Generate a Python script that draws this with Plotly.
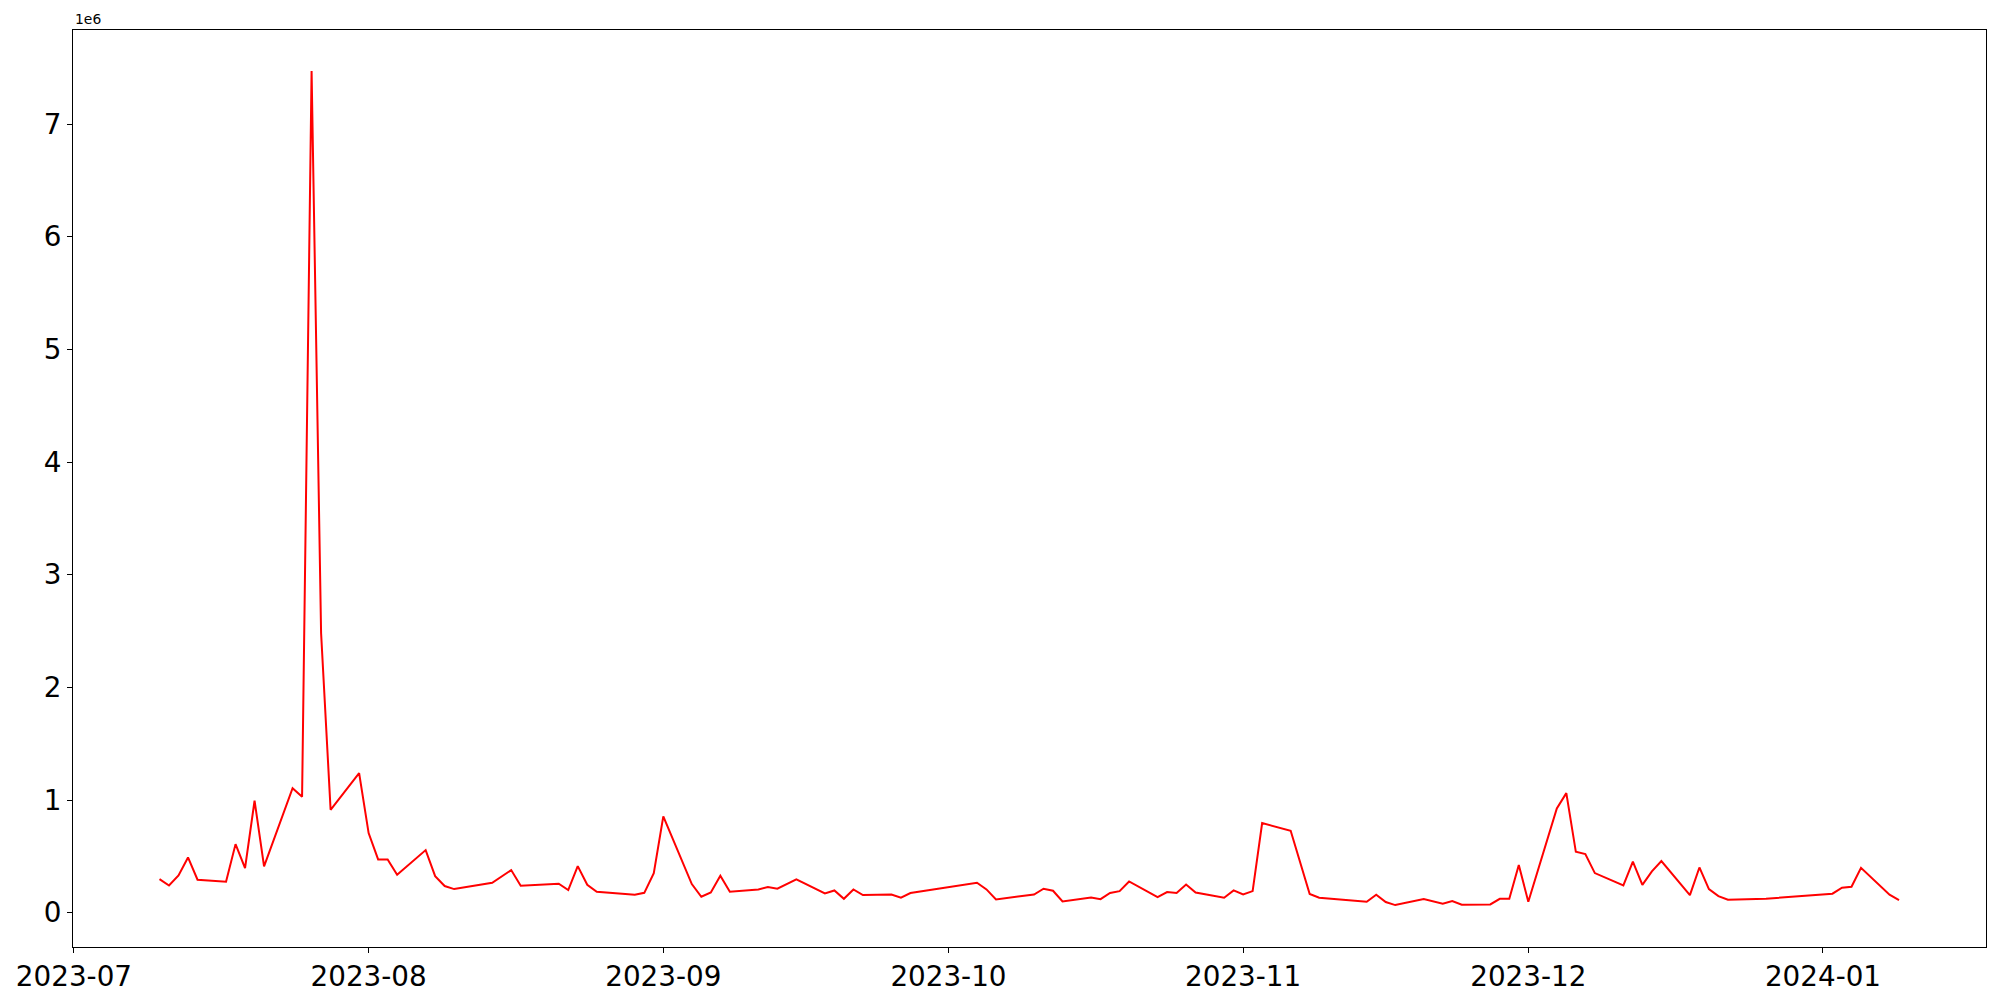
import plotly.graph_objects as go

dates = [
    "2023-07-10", "2023-07-11", "2023-07-12", "2023-07-13", "2023-07-14",
    "2023-07-17", "2023-07-18", "2023-07-19", "2023-07-20", "2023-07-21",
    "2023-07-24", "2023-07-25", "2023-07-26", "2023-07-27", "2023-07-28",
    "2023-07-31", "2023-08-01", "2023-08-02", "2023-08-03", "2023-08-04",
    "2023-08-07", "2023-08-08", "2023-08-09", "2023-08-10", "2023-08-14",
    "2023-08-16", "2023-08-17", "2023-08-21", "2023-08-22", "2023-08-23",
    "2023-08-24", "2023-08-25", "2023-08-29", "2023-08-30", "2023-08-31",
    "2023-09-01", "2023-09-04", "2023-09-05", "2023-09-06", "2023-09-07",
    "2023-09-08", "2023-09-11", "2023-09-12", "2023-09-13", "2023-09-15",
    "2023-09-18", "2023-09-19", "2023-09-20", "2023-09-21", "2023-09-22",
    "2023-09-25", "2023-09-26", "2023-09-27", "2023-10-04", "2023-10-05",
    "2023-10-06", "2023-10-10", "2023-10-11", "2023-10-12", "2023-10-13",
    "2023-10-16", "2023-10-17", "2023-10-18", "2023-10-19", "2023-10-20",
    "2023-10-23", "2023-10-24", "2023-10-25", "2023-10-26", "2023-10-27",
    "2023-10-30", "2023-10-31", "2023-11-01", "2023-11-02", "2023-11-03",
    "2023-11-06", "2023-11-08", "2023-11-09", "2023-11-14", "2023-11-15",
    "2023-11-16", "2023-11-17", "2023-11-20", "2023-11-22", "2023-11-23",
    "2023-11-24", "2023-11-27", "2023-11-28", "2023-11-29", "2023-11-30",
    "2023-12-01", "2023-12-04", "2023-12-05", "2023-12-06", "2023-12-07",
    "2023-12-08", "2023-12-11", "2023-12-12", "2023-12-13", "2023-12-14",
    "2023-12-15", "2023-12-18", "2023-12-19", "2023-12-20", "2023-12-21",
    "2023-12-22", "2023-12-26", "2024-01-02", "2024-01-03", "2024-01-04",
    "2024-01-05", "2024-01-08", "2024-01-09",
]

values = [
    299000, 242000, 331000, 491000, 293000,
    275000, 609000, 397000, 994000, 411000,
    1106000, 1029000, 7470000, 2480000, 914000,
    1240000, 707000, 473000, 473000, 337000,
    556000, 325000, 237000, 210000, 266000,
    379000, 240000, 257000, 201000, 414000,
    248000, 186000, 160000, 177000, 352000,
    855000, 255000, 142000, 180000, 328000,
    186000, 207000, 228000, 213000, 296000,
    171000, 198000, 124000, 207000, 157000,
    162000, 133000, 175000, 266000, 207000,
    118000, 162000, 213000, 195000, 100000,
    136000, 121000, 175000, 192000, 278000,
    139000, 184000, 175000, 251000, 180000,
    133000, 198000, 162000, 192000, 796000,
    728000, 166000, 133000, 98000, 160000,
    95000, 68000, 121000, 80000, 104000,
    71000, 74000, 124000, 124000, 423000,
    98000, 926000, 1062000, 541000, 521000,
    352000, 242000, 453000, 248000, 367000,
    459000, 157000, 402000, 210000, 148000,
    115000, 124000, 169000, 222000, 231000,
    399000, 160000, 113000,
]

month_ticks = ["2023-07-01", "2023-08-01", "2023-09-01", "2023-10-01",
               "2023-11-01", "2023-12-01", "2024-01-01"]
month_labels = ["2023-07", "2023-08", "2023-09", "2023-10",
                "2023-11", "2023-12", "2024-01"]
y_ticks = [0, 1e6, 2e6, 3e6, 4e6, 5e6, 6e6, 7e6]
y_labels = ["0", "1", "2", "3", "4", "5", "6", "7"]

fig = go.Figure(
    go.Scatter(
        x=dates,
        y=values,
        mode="lines",
        line=dict(color="red", width=2),
        showlegend=False,
    )
)

axis_style = dict(
    automargin=False,
    showgrid=False,
    zeroline=False,
    showline=True,
    mirror=True,
    linecolor="black",
    linewidth=1.1,
    ticks="outside",
    ticklen=5,
    tickwidth=1.1,
    tickcolor="black",
    tickfont=dict(family="DejaVu Sans", size=27.8, color="black"),
)

# page body has an 8px margin, so the figure is sized to sit inside it
fig.update_layout(
    width=1984,
    height=984,
    margin=dict(l=65, r=6, t=22, b=45),
    paper_bgcolor="white",
    plot_bgcolor="white",
    font=dict(family="DejaVu Sans", color="black"),
    xaxis=dict(
        range=["2023-06-30 21:36", "2024-01-18 03:36"],
        tickvals=month_ticks,
        ticktext=month_labels,
        **axis_style,
    ),
    yaxis=dict(
        range=[-0.304e6, 7.835e6],
        tickvals=y_ticks,
        ticktext=y_labels,
        **axis_style,
    ),
    annotations=[
        dict(
            text="1e6",
            xref="paper", yref="paper",
            x=0, y=1,
            xanchor="left", yanchor="bottom",
            yshift=1,
            showarrow=False,
            font=dict(family="DejaVu Sans", size=13.9, color="black"),
        )
    ],
)

fig.write_html("out.html")
